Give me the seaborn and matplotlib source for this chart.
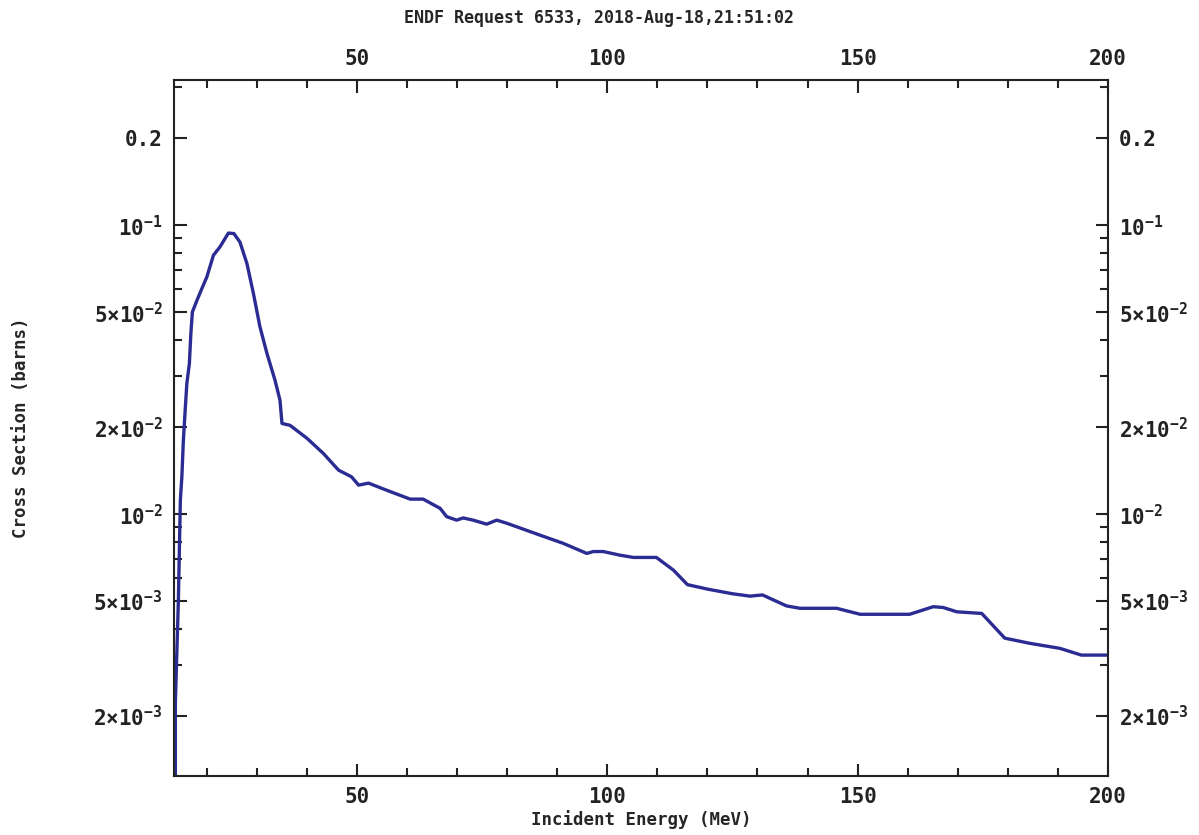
import numpy as np
import pandas as pd
import matplotlib
matplotlib.use("Agg")
import matplotlib.pyplot as plt
import matplotlib.ticker as mticker
import seaborn as sns

# incident energy (MeV) and cross section (barns)
energy = [13.4, 13.7, 13.7, 14.3, 14.7, 15.0, 15.3, 15.7, 16.0, 16.5, 16.8, 17.1,
          18.0, 19.0, 20.0, 21.3, 22.6, 24.3, 25.4, 26.6, 28.0, 29.3, 30.6, 32.0,
          33.6, 34.6, 35.0, 36.6, 40.0, 43.3, 46.3, 48.9, 50.3, 52.3, 55.9, 60.6,
          63.2, 66.6, 67.9, 69.9, 71.2, 73.2, 75.9, 77.9, 79.9, 86.6, 91.2, 95.9,
          97.2, 99.2, 102.5, 105.2, 109.8, 113.2, 116.0, 120.0, 125.0, 128.5, 131.0,
          135.8, 138.5, 145.8, 150.5, 160.4, 165.1, 167.1, 169.8, 174.8, 179.4,
          184.4, 190.4, 194.7, 200.0]
xs = [1.24e-3, 1.24e-3, 2.22e-3, 5.0e-3, 0.0112, 0.01346, 0.018, 0.0235, 0.0284,
      0.0332, 0.0423, 0.0501, 0.0549, 0.0604, 0.0663, 0.0787, 0.0841, 0.094,
      0.0936, 0.0875, 0.0737, 0.058, 0.0445, 0.036, 0.0291, 0.0248, 0.0206,
      0.0203, 0.0183, 0.0162, 0.0142, 0.01346, 0.0126, 0.0128, 0.0121, 0.01127,
      0.01127, 0.01047, 0.0098, 0.00953, 0.0097, 0.00953, 0.00923, 0.00953,
      0.0093, 0.00845, 0.00792, 0.00731, 0.00742, 0.00742, 0.00721, 0.00708,
      0.00708, 0.0064, 0.0057, 0.0055, 0.0053, 0.0052, 0.00525, 0.00481,
      0.00472, 0.00472, 0.0045, 0.0045, 0.00478, 0.00475, 0.00459, 0.00453,
      0.00372, 0.00357, 0.00343, 0.00325, 0.00325]

ytick_vals = [0.2, 1e-1, 5e-2, 2e-2, 1e-2, 5e-3, 2e-3]
ytick_labels = ["0.2", r"$10^{-1}$", r"$5{\times}10^{-2}$", r"$2{\times}10^{-2}$",
                r"$10^{-2}$", r"$5{\times}10^{-3}$", r"$2{\times}10^{-3}$"]

title = "ENDF Request 6533, 2018-Aug-18,21:51:02"


def main():
    sns.set_style("ticks")
    plt.rcParams['font.family'] = ['DejaVu Sans Mono']
    plt.rcParams['font.weight'] = 'bold'
    plt.rcParams['mathtext.fontset'] = 'custom'
    plt.rcParams['mathtext.rm'] = 'DejaVu Sans Mono:bold'
    plt.rcParams['mathtext.it'] = 'DejaVu Sans Mono:bold'
    plt.rcParams['mathtext.bf'] = 'DejaVu Sans Mono:bold'
    plt.rcParams['mathtext.default'] = 'rm'

    df = pd.DataFrame({"energy": energy, "xs": xs})

    fig = plt.figure(figsize=(11.99, 8.35), dpi=100)
    ax = fig.add_axes([0.145, 0.0707, 0.779, 0.8333])
    sns.lineplot(data=df, x="energy", y="xs", color="#2b2b94", linewidth=2.4,
                 sort=False, estimator=None, ax=ax)

    ax.set_yscale("log")
    ax.set_xlim(energy[0], 200)
    ax.set_ylim(1.24e-3, 0.318)

    ax.xaxis.set_major_locator(mticker.MultipleLocator(50))
    ax.xaxis.set_minor_locator(mticker.MultipleLocator(10))
    ax.yaxis.set_major_locator(mticker.FixedLocator(ytick_vals))
    ax.yaxis.set_major_formatter(mticker.FixedFormatter(ytick_labels))
    ax.yaxis.set_minor_locator(mticker.LogLocator(base=10, subs=np.arange(1, 10)))
    ax.yaxis.set_minor_formatter(mticker.NullFormatter())

    ax.tick_params(which="both", direction="in", top=True, right=True,
                   labeltop=True, labelright=True, width=1.5, labelsize=15,
                   colors="#222222")
    ax.tick_params(which="major", length=9)
    ax.tick_params(which="minor", length=5.5)
    ax.tick_params(axis="x", which="major", pad=8)
    ax.tick_params(axis="y", which="major", pad=8)
    for s in ax.spines.values():
        s.set_linewidth(1.5)
        s.set_color("#222222")

    ax.set_xlabel("Incident Energy (MeV)", fontsize=12.5, fontweight="bold", labelpad=2)
    ax.set_ylabel("Cross Section (barns)", fontsize=12.5, fontweight="bold", labelpad=46)
    fig.text(0.5, 0.978, title, ha="center", va="center", fontsize=12, fontweight="bold")

    plt.savefig("out.png", dpi=100)
    plt.close()


if __name__ == "__main__":
    main()
